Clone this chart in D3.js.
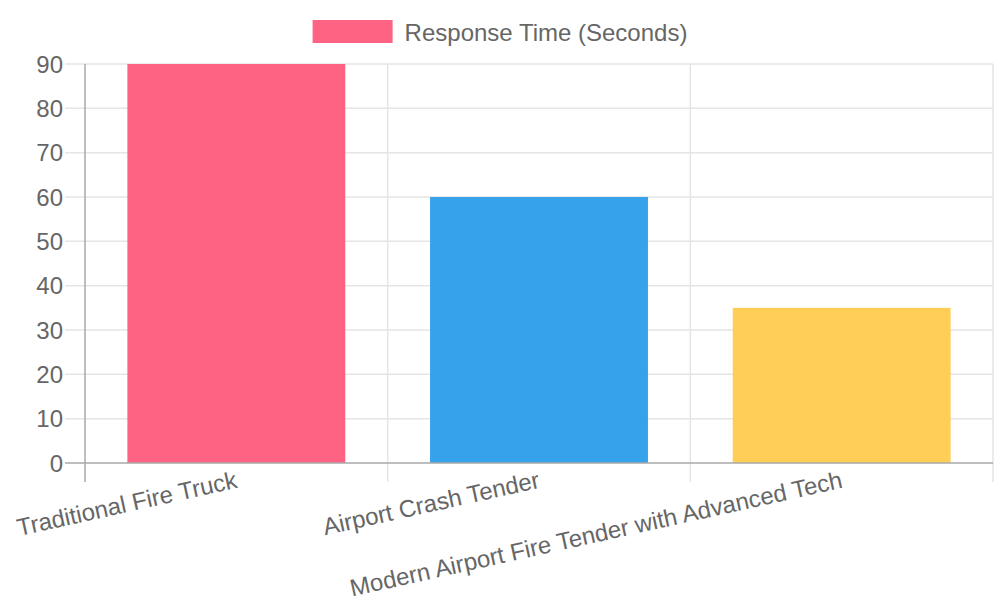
<!DOCTYPE html>
<html>
<head>
<meta charset="utf-8">
<script src="https://cdn.jsdelivr.net/npm/d3@7"></script>
<style>
  html, body { margin: 0; padding: 0; background: #fff; }
  #chart { width: 1000px; height: 600px; }
  text { font-family: "Liberation Sans", Arial, sans-serif; }
</style>
</head>
<body>
<div id="chart"></div>
<script>
// data
const categories = ["Traditional Fire Truck", "Airport Crash Tender", "Modern Airport Fire Tender with Advanced Tech"];
const responseTimes = [90, 60, 35];
const barColors = ["#ff6384", "#36a2eb", "#ffce56"];
const yTicks = [0, 10, 20, 30, 40, 50, 60, 70, 80, 90];
const seriesName = "Response Time (Seconds)";

function drawBarChart(selector) {
    const width = 1000;
    const height = 600;
    const margin = { top: 64, right: 7, bottom: 137, left: 85 };
    const fontSize = "24px";

    const svg = d3.select(selector).append("svg")
        .attr("viewBox", [0, 0, width, height])
        .attr("width", width)
        .attr("height", height);

    const x = d3.scaleBand()
        .domain(categories)
        .range([margin.left, width - margin.right])
        .paddingInner(0)
        .paddingOuter(0);

    const y = d3.scaleLinear()
        .domain([0, 90])
        .range([height - margin.bottom, margin.top]);

    const grid = "#e5e5e5";
    const axisColor = "#a9a9a9";
    const textColor = "#666";

    // horizontal grid + y ticks (gridline runs out into the tick mark)
    svg.append("g")
        .selectAll("line")
        .data(yTicks.filter(d => d !== 0))
        .join("line")
        .attr("x1", margin.left - 20)
        .attr("x2", width - margin.right)
        .attr("y1", d => y(d))
        .attr("y2", d => y(d))
        .attr("stroke", grid)
        .attr("stroke-width", 1.5);

    // vertical grid at category boundaries
    const bounds = categories.map(c => x(c)).concat([x.range()[1]]);
    svg.append("g")
        .selectAll("line")
        .data(bounds.slice(1))
        .join("line")
        .attr("x1", d => d)
        .attr("x2", d => d)
        .attr("y1", margin.top)
        .attr("y2", y(0) + 19)
        .attr("stroke", grid)
        .attr("stroke-width", 1.5);

    // bars
    const barW = x.bandwidth() * 0.72;
    svg.append("g")
        .selectAll("rect")
        .data(responseTimes)
        .join("rect")
        .attr("x", (d, i) => x(categories[i]) + (x.bandwidth() - barW) / 2)
        .attr("y", d => y(d))
        .attr("width", barW)
        .attr("height", d => y(0) - y(d))
        .attr("fill", (d, i) => barColors[i]);

    // axes lines
    svg.append("line")
        .attr("x1", margin.left).attr("x2", margin.left)
        .attr("y1", margin.top).attr("y2", y(0) + 19)
        .attr("stroke", axisColor).attr("stroke-width", 1.5);
    svg.append("line")
        .attr("x1", margin.left - 20).attr("x2", width - margin.right)
        .attr("y1", y(0)).attr("y2", y(0))
        .attr("stroke", axisColor).attr("stroke-width", 1.5);

    // y tick labels
    svg.append("g")
        .selectAll("text")
        .data(yTicks)
        .join("text")
        .attr("x", margin.left - 22)
        .attr("y", d => y(d))
        .attr("dy", "0.36em")
        .attr("text-anchor", "end")
        .attr("fill", textColor)
        .style("font-size", fontSize)
        .text(d => d);

    // x tick labels, rotated, right end on the band centre
    svg.append("g")
        .selectAll("text")
        .data(categories)
        .join("text")
        .attr("transform", d => `translate(${x(d) + x.bandwidth() / 2},${y(0) + 16}) rotate(-12.5)`)
        .attr("text-anchor", "end")
        .attr("dy", "0.36em")
        .attr("fill", textColor)
        .style("font-size", fontSize)
        .text(d => d);

    // Legend
    const legend = svg.append("g");
    const label = legend.append("text")
        .attr("x", 92)
        .attr("y", 32)
        .attr("dy", "0.36em")
        .attr("fill", textColor)
        .style("font-size", fontSize)
        .text(seriesName);
    legend.append("rect")
        .attr("x", 0)
        .attr("y", 20)
        .attr("width", 80)
        .attr("height", 23)
        .attr("fill", barColors[0]);
    const total = 92 + label.node().getComputedTextLength();
    legend.attr("transform", `translate(${(width - total) / 2},0)`);
}

drawBarChart("#chart");
</script>
</body>
</html>
